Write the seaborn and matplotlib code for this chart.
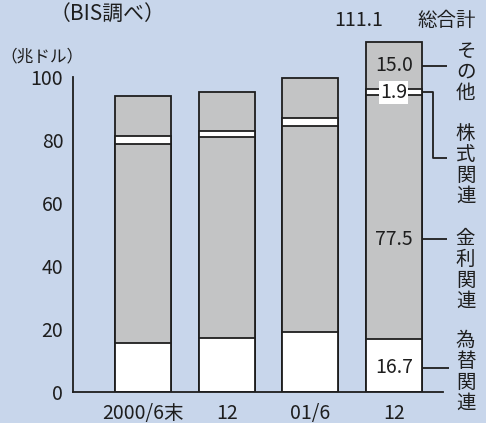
import matplotlib
matplotlib.use("Agg")
import matplotlib.pyplot as plt
import seaborn as sns
import numpy as np

# ---- data (兆ドル) ----
periods = ["2000/6", "2000/12", "2001/6", "2001/12"]
tick_labels = ["2000/6末", "12", "01/6", "12"]
fx = [15.5, 17.1, 19.0, 16.7]        # 為替関連
rates = [63.2, 63.7, 65.3, 77.5]     # 金利関連
equity = [2.6, 1.9, 2.8, 1.9]        # 株式関連
other = [12.7, 12.5, 12.7, 15.0]     # その他
total_label = "111.1"
yticks = [0, 20, 40, 60, 80, 100]

sns.set_theme(style="white")
plt.rcParams["font.family"] = ["Noto Sans CJK JP", "DejaVu Sans"]

BG = "#c8d6eb"
GRAY = "#c3c4c5"
INK = "#1e1e1e"

fig = plt.figure(figsize=(4.86, 4.23), dpi=100)
fig.patch.set_facecolor(BG)
ax = fig.add_axes([73 / 486, 1 - 392 / 423, (443 - 73) / 486, (392 - 36) / 423])
ax.set_facecolor(BG)

c1 = np.array(fx)
c2 = c1 + np.array(rates)
c3 = c2 + np.array(equity)
c4 = c3 + np.array(other)

W = 0.67
for vals, col in [(c4, GRAY), (c3, "white"), (c2, GRAY), (c1, "white")]:
    sns.barplot(x=periods, y=vals, order=periods, color=col, saturation=1,
                width=W, edgecolor=INK, linewidth=1.3, ax=ax)

ax.set_xlim(-0.84, 3.59)
ax.set_ylim(0, 113)
ax.set_xlabel("")
ax.set_ylabel("")
ax.set_xticks(range(len(periods)))
ax.set_xticklabels(tick_labels, fontsize=14, color=INK)
ax.set_yticks(yticks)
ax.set_yticklabels([str(t) for t in yticks], fontsize=14, color=INK)
ax.tick_params(axis="y", direction="in", length=7, width=1.3, pad=7, colors=INK)
ax.tick_params(axis="x", length=0, pad=8)
for s in ["top", "right"]:
    ax.spines[s].set_visible(False)
ax.spines["left"].set_bounds(0, 100)
for s in ["left", "bottom"]:
    ax.spines[s].set_color(INK)
    ax.spines[s].set_linewidth(1.3)

# ---- labels inside / around last bar ----
i = 3
xr = i + W / 2
fs = 14
ax.text(i, c3[i] + other[i] / 2, f"{other[i]:.1f}", ha="center", va="center", fontsize=fs, color=INK)
ax.text(i, c2[i] + equity[i] / 2, f"{equity[i]:.1f}", ha="center", va="center", fontsize=fs, color=INK,
        bbox=dict(boxstyle="square,pad=0.05", fc="white", ec="none"))
y_rates = c1[i] + rates[i] * 0.41
ax.text(i, y_rates, f"{rates[i]:.1f}", ha="center", va="center", fontsize=fs, color=INK)
y_fx = fx[i] * 0.46
ax.text(i, y_fx, f"{fx[i]:.1f}", ha="center", va="center", fontsize=fs, color=INK,
        bbox=dict(boxstyle="square,pad=0.1", fc="white", ec="none"))

ax.text(2.87, 118, total_label, ha="right", va="center", fontsize=fs, color=INK, clip_on=False)
ax.text(3.29, 118, "総合計", ha="left", va="center", fontsize=fs, color=INK, clip_on=False)

lk = dict(color=INK, lw=1.3, clip_on=False, solid_capstyle="butt")
xe = 3.64
ax.plot([xr, xe], [c3[i] + other[i] / 2] * 2, **lk)
ax.plot([xr, 3.47, 3.47, xe], [c2[i] + equity[i] / 2, c2[i] + equity[i] / 2, 74.3, 74.3], **lk)
ax.plot([xr, xe], [y_rates] * 2, **lk)
ax.plot([xr, 3.66], [y_fx] * 2, **lk)

def vtext(x, ytop, s):
    ax.text(x, ytop, "\n".join(s), ha="center", va="top", fontsize=14, color=INK,
            linespacing=1.0, clip_on=False)

vx = 3.86
vtext(vx, 111.5, "その他")
vtext(vx, 85.4, "株式関連")
vtext(vx, 52.1, "金利関連")
vtext(vx, 19.7, "為替関連")

fig.text(107 / 486, 1 - 14 / 423, "（BIS調べ）", ha="center", va="center", fontsize=15, color=INK)
fig.text(42 / 486, 1 - 57 / 423, "（兆ドル）", ha="center", va="center", fontsize=12, color=INK)

fig.savefig("out.png", dpi=100, facecolor=BG)
